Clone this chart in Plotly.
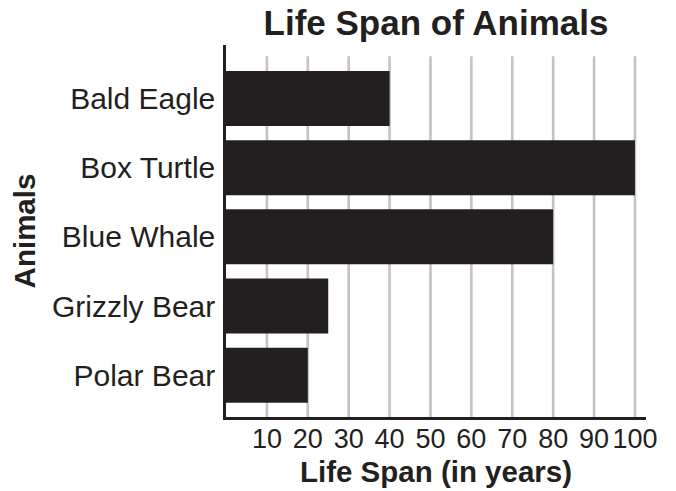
import plotly.graph_objects as go

animals = ["Bald Eagle", "Box Turtle", "Blue Whale", "Grizzly Bear", "Polar Bear"]
life_span = [40, 100, 80, 25, 20]
x_ticks = [10, 20, 30, 40, 50, 60, 70, 80, 90, 100]
x_tick_labels = [str(v) for v in x_ticks]

INK = "#231f20"
GRID = "#c3c3c7"
FONT = "Liberation Sans, Arial, Helvetica, sans-serif"

fig = go.Figure(
    go.Bar(
        y=animals,
        x=life_span,
        orientation="h",
        width=0.795,
        marker=dict(color=INK, line=dict(width=0)),
        hoverinfo="x+y",
    )
)

# vertical gridlines (stop slightly below the top of the y-axis line)
for v in x_ticks:
    fig.add_shape(
        type="line", xref="x", yref="paper",
        x0=v, x1=v, y0=0, y1=0.970,
        line=dict(color=GRID, width=2.6),
        layer="below",
    )

fig.update_layout(
    width=676,
    height=491,
    margin=dict(l=226, r=30, t=45, b=74, autoexpand=False),
    paper_bgcolor="white",
    plot_bgcolor="white",
    showlegend=False,
    font=dict(family=FONT, color=INK),
    title=dict(
        text="<b>Life Span of Animals</b>",
        font=dict(size=35, family=FONT, color=INK),
        x=0.5, xref="paper", xanchor="center",
        y=1 - 23 / 491, yref="container", yanchor="middle",
    ),
    xaxis=dict(
        range=[0, 102.7],
        tickmode="array",
        tickvals=x_ticks,
        ticktext=x_tick_labels,
        showgrid=False,
        zeroline=False,
        showline=True,
        linecolor=INK,
        linewidth=2.5,
        ticks="",
        ticklabelstandoff=-4,
        tickfont=dict(size=27, family=FONT, color=INK),
        title=dict(text="<b>Life Span (in years)</b>", font=dict(size=29.5, family=FONT, color=INK), standoff=9),
        automargin=False,
        fixedrange=True,
    ),
    yaxis=dict(
        categoryorder="array",
        categoryarray=animals,
        range=[4.604, -0.773],
        showgrid=False,
        zeroline=False,
        showline=True,
        linecolor=INK,
        linewidth=2.5,
        ticks="",
        ticklabelstandoff=2,
        tickfont=dict(size=30, family=FONT, color=INK),
        title=dict(text="<b>Animals</b>", font=dict(size=29.5, family=FONT, color=INK), standoff=8),
        automargin=False,
        fixedrange=True,
    ),
)

fig.write_html(
    "out.html",
    config={"displayModeBar": False},
    post_script="document.body.style.margin='0';document.body.style.overflow='hidden';",
)
